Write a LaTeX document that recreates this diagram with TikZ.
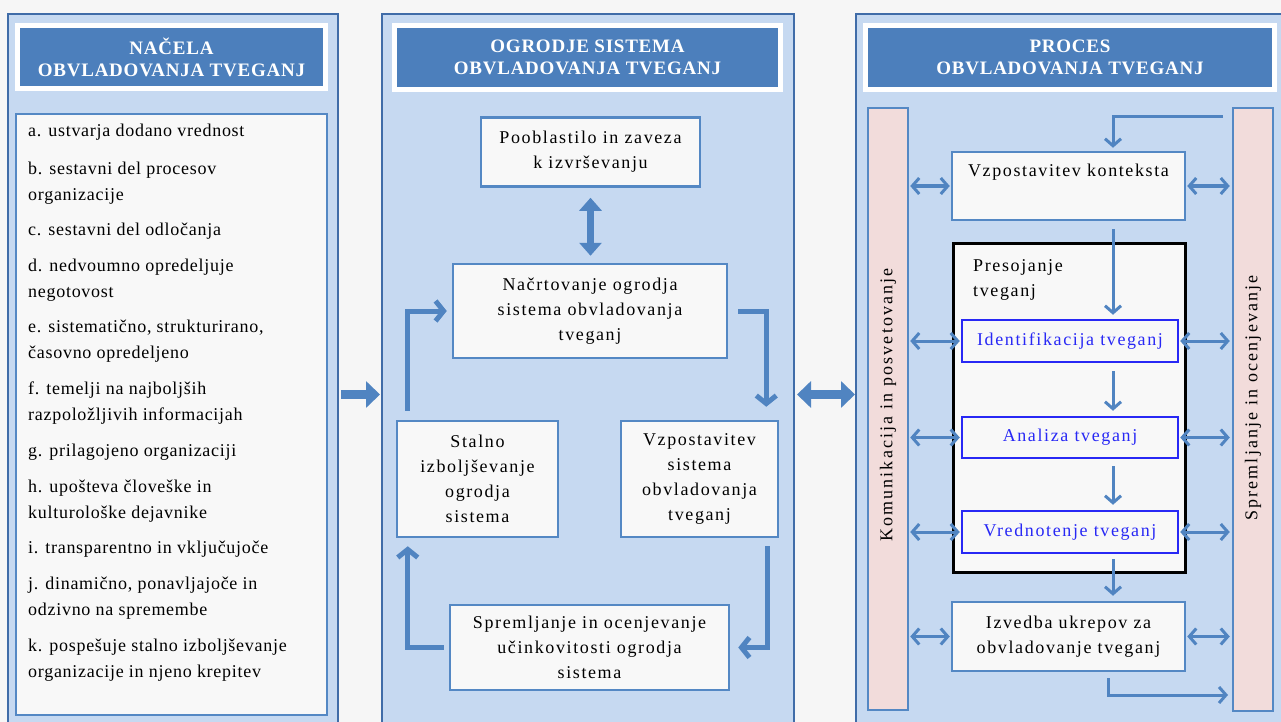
\documentclass[tikz,border=0pt]{standalone}
\usepackage{fontspec}
\setmainfont{Liberation Serif}
\usetikzlibrary{arrows.meta,shadows}

\definecolor{panelfill}{RGB}{198,217,241}
\definecolor{panelline}{RGB}{64,108,168}
\definecolor{hdrblue}{RGB}{76,127,188}
\definecolor{boxline}{RGB}{84,136,196}
\definecolor{boxfill}{RGB}{248,248,248}
\definecolor{barpink}{RGB}{242,220,219}
\definecolor{riskblue}{RGB}{40,40,245}
\definecolor{arrowblue}{RGB}{80,132,193}
\definecolor{pagebg}{RGB}{246,246,246}

\newcommand*{\boxfont}{\fontsize{18}{25}\selectfont\addfontfeatures{LetterSpace=9}}
\newcommand*{\barfont}{\fontsize{18}{25}\selectfont\addfontfeatures{LetterSpace=12}}
\newcommand*{\listfont}{\fontsize{18}{26}\selectfont\addfontfeatures{LetterSpace=4}}
\newcommand*{\hdrfont}{\bfseries\fontsize{19}{22}\selectfont\addfontfeatures{LetterSpace=4}}

\tikzset{
  panel/.style={draw=panelline, fill=panelfill, line width=2pt, anchor=north west, inner sep=0pt},
  header/.style={draw=white, fill=hdrblue, line width=5pt, text=white, font=\hdrfont, align=center,
    inner sep=0pt, drop shadow={opacity=0.3, shadow xshift=1pt, shadow yshift=-2pt}},
  textbox/.style={draw=boxline, fill=boxfill, line width=2.5pt, font=\boxfont, align=center, inner sep=0pt},
  riskbox/.style={textbox, draw=riskblue, text=riskblue},
  sidebar/.style={draw=boxline, fill=barpink, line width=2.5pt, inner sep=0pt},
  flow/.style={draw=arrowblue, line width=3pt, -{Straight Barb[length=7pt,width=16pt]}},
  twoway/.style={flow, {Straight Barb[length=7pt,width=16pt]}-{Straight Barb[length=7pt,width=16pt]}},
  loopflow/.style={draw=arrowblue, line width=5pt, -{Straight Barb[length=8pt,width=20pt]}},
  bigarrow/.style={draw=arrowblue, line width=9pt, -{Triangle[length=14pt,width=26pt]}},
  bigtwoway/.style={bigarrow, {Triangle[length=14pt,width=26pt]}-{Triangle[length=14pt,width=26pt]}},
}

\begin{document}
\begin{tikzpicture}[x=1pt, y=-1pt]

\useasboundingbox (0,0) rectangle (1281,722);
\fill[pagebg] (0,0) rectangle (1281,722);

% Panels
\node[panel, minimum width=330pt, minimum height=720pt] (pL) at (7,13) {};
\node[panel, minimum width=412pt, minimum height=720pt] (pM) at (381,13) {};
\node[panel, minimum width=440pt, minimum height=720pt] (pR) at (855,13) {};

% Headers
\node[header, minimum width=308pt, minimum height=63pt] (hL) at (171.5,57) {NAČELA\\OBVLADOVANJA TVEGANJ};
\node[header, minimum width=386pt, minimum height=64pt] (hM) at (587.5,57.5) {OGRODJE SISTEMA\\OBVLADOVANJA TVEGANJ};
\node[header, minimum width=409pt, minimum height=64pt] (hR) at (1070,57.5) {PROCES\\OBVLADOVANJA TVEGANJ};

% Between panels
\draw[bigarrow, shorten <=2pt, shorten >=1pt] ([yshift=-20.5pt]pL.east) -- ([yshift=-20.5pt]pM.west);
\draw[bigtwoway, shorten <=2pt] ([yshift=-20.5pt]pM.east) -- ([yshift=-20.5pt]pR.west);

% First panel: principles
\node[textbox, minimum width=311pt, minimum height=601pt] (list) at (171.5,414.5) {};
\foreach \y/\txt [count=\i] in {
    132/{a. ustvarja dodano vrednost},
    183/{b. sestavni del procesov\\organizacije},
    231/{c. sestavni del odločanja},
    280/{d. nedvoumno opredeljuje\\negotovost},
    341/{e. sistematično, strukturirano,\\časovno opredeljeno},
    403/{f. temelji na najboljših\\razpoložljivih informacijah},
    452/{g. prilagojeno organizaciji},
    501/{h. upošteva človeške in\\kulturološke dejavnike},
    549/{i. transparentno in vključujoče},
    598/{j. dinamično, ponavljajoče in\\odzivno na spremembe},
    660/{k. pospešuje stalno izboljševanje\\organizacije in njeno krepitev}}
  \node[anchor=west, align=left, inner sep=0pt, font=\listfont] (item\i) at (28,\y) {\txt};

% Second panel: framework
\node[textbox, minimum width=219pt, minimum height=69pt] (poob) at (590.5,152) {Pooblastilo in zaveza\\k izvrševanju};
\node[textbox, minimum width=274pt, minimum height=94pt] (nacrt) at (590,311) {Načrtovanje ogrodja\\sistema obvladovanja\\tveganj};
\node[textbox, minimum width=161pt, minimum height=116pt] (stalno) at (477.5,479) {Stalno\\izboljševanje\\ogrodja\\sistema};
\node[textbox, minimum width=157pt, minimum height=116pt] (vzpos) at (699.5,479) {Vzpostavitev\\sistema\\obvladovanja\\tveganj};
\node[textbox, minimum width=279pt, minimum height=85pt] (sprem) at (589.5,647.5) {Spremljanje in ocenjevanje\\učinkovitosti ogrodja\\sistema};

\draw[draw=arrowblue, line width=7pt, {Triangle[length=13pt,width=22pt]}-{Triangle[length=13pt,width=22pt]}]
  ([yshift=-10pt]poob.south) -- ([yshift=7pt]poob.south |- nacrt.north);
\draw[loopflow] ([xshift=10pt]nacrt.east) -| ([xshift=-13pt,yshift=13pt]vzpos.north east);
\draw[loopflow] ([xshift=-12pt,yshift=-8pt]vzpos.south east) |- ([xshift=8pt]sprem.east);
\draw[loopflow] ([xshift=-5pt]sprem.west) -| ([xshift=12pt,yshift=-8pt]stalno.south west);
\draw[loopflow] ([xshift=12pt,yshift=9pt]stalno.north west) |- ([xshift=-5pt]nacrt.west);

% Third panel: process
\node[sidebar, minimum width=40pt, minimum height=602pt] (barL) at (888,409) {};
\node[sidebar, minimum width=40pt, minimum height=603pt] (barR) at (1253,409.5) {};
\node[rotate=90, font=\barfont] (komLbl) at (888,405) {Komunikacija in posvetovanje};
\node[rotate=90, font=\barfont] (sprLbl) at (1253,398) {Spremljanje in ocenjevanje};

\node[textbox, minimum width=233pt, minimum height=68pt] (kontekst) at (1068.5,186) {Vzpostavitev konteksta\\[6pt]};
\node[textbox, draw=black, line width=3pt, minimum width=232pt, minimum height=329pt] (presoja) at (1069,407.5) {};
\node[anchor=north west, align=left, inner sep=0pt, font=\boxfont] (presojaLbl) at (973,259) {Presojanje\\tveganj};
\node[riskbox, minimum width=216pt, minimum height=42pt] (ident) at (1070,341) {Identifikacija tveganj};
\node[riskbox, minimum width=216pt, minimum height=41pt] (analiza) at (1070,437.5) {Analiza tveganj};
\node[riskbox, minimum width=216pt, minimum height=42pt] (vredn) at (1070,532) {Vrednotenje tveganj};
\node[textbox, minimum width=233pt, minimum height=69pt] (izvedba) at (1068.5,636.5) {Izvedba ukrepov za\\obvladovanje tveganj};

\coordinate (inR) at (1223,117);
\coordinate (outR) at (1228,695);
\draw[flow, shorten >=3pt] (inR) -| ([xshift=44.5pt]kontekst.north);
\draw[flow, shorten <=8pt, shorten >=4pt] ([xshift=44.5pt]kontekst.south) -- ([xshift=43pt]ident.north);
\draw[flow, shorten <=8pt, shorten >=5pt] ([xshift=43pt]ident.south) -- ([xshift=43pt]analiza.north);
\draw[flow, shorten <=7pt, shorten >=5pt] ([xshift=43pt]analiza.south) -- ([xshift=43pt]vredn.north);
\draw[flow, shorten <=5pt, shorten >=5pt] ([xshift=43pt]vredn.south) -- ([xshift=44.5pt]izvedba.north);
\draw[flow, shorten <=6pt] ([xshift=39.5pt]izvedba.south) |- (outR);
\foreach \b in {kontekst, ident, analiza, vredn, izvedba} {
  \draw[twoway, shorten <=1pt, shorten >=1pt] (barL.east |- \b.west) -- (\b.west);
  \draw[twoway, shorten <=1pt, shorten >=2pt] (\b.east) -- (barR.west |- \b.east);
}

\end{tikzpicture}
\end{document}
